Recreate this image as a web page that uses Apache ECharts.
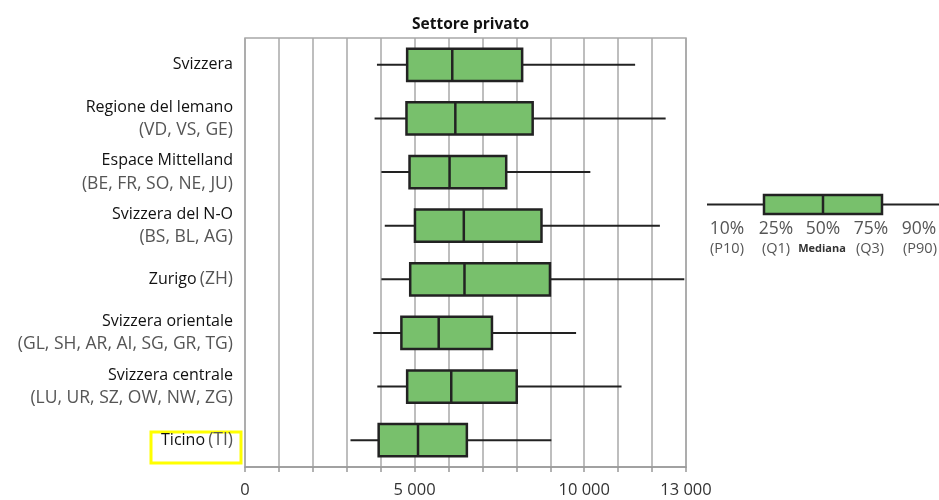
<!DOCTYPE html>
<html><head><meta charset="utf-8">
<script src="https://cdn.jsdelivr.net/npm/echarts@6/dist/echarts.min.js"></script>
<style>html,body{margin:0;padding:0;background:#fff}#c{width:939px;height:500px}</style>
</head><body><div id="c"></div>
<script>
const regions = ['Svizzera','Regione del lemano','Espace Mittelland','Svizzera del N-O','Zurigo','Svizzera orientale','Svizzera centrale','Ticino'];
const cantons = ['','(VD, VS, GE)','(BE, FR, SO, NE, JU)','(BS, BL, AG)','(ZH)','(GL, SH, AR, AI, SG, GR, TG)','(LU, UR, SZ, OW, NW, ZG)','(TI)'];
const p10 = [3890, 3820, 4020, 4120, 4020, 3780, 3900, 3110];
const q1  = [4780, 4760, 4850, 5010, 4870, 4610, 4780, 3940];
const med = [6110, 6200, 6030, 6450, 6470, 5710, 6080, 5100];
const q3  = [8170, 8480, 7700, 8740, 8990, 7280, 8010, 6540];
const p90 = [11500, 12400, 10180, 12230, 12950, 9760, 11100, 9030];
const xLabels = [0, 5000, 10000, 13000];

const data = regions.map((r,i)=>[i,p10[i],q1[i],med[i],q3[i],p90[i]]);
const chart = echarts.init(document.getElementById('c'));
const fmt = v => String(v).replace(/\B(?=(\d{3})+(?!\d))/g,' ');
const font = '"Open Sans", sans-serif';
chart.setOption({
  animation:false,
  title:{text:'Settore privato',left:465.5,textAlign:'center',top:12,textStyle:{fontFamily:font,fontSize:15.5,fontWeight:'bold',color:'#111'}},
  grid:{left:245,right:253,top:38,bottom:33,show:true,borderColor:'#a8a8a8',borderWidth:1.5},
  xAxis:{type:'value',min:0,max:13000,interval:1000,
    axisLine:{show:true,lineStyle:{color:'#999',width:1.5}},
    axisTick:{show:true,length:5,lineStyle:{color:'#999',width:1.5}},
    splitLine:{show:true,lineStyle:{color:'#a8a8a8',width:1.5}},
    axisLabel:{margin:15,fontFamily:font,fontSize:16.5,color:'#333',
      formatter:v=>xLabels.indexOf(v)>=0?fmt(v):'' ,showMaxLabel:true}},
  yAxis:{type:'category',inverse:true,data:regions,
    axisLine:{show:false},axisTick:{show:false},splitLine:{show:false},
    axisLabel:{margin:12,fontFamily:font,
      formatter:(v,i)=>{
        if(i===0) return '{a|'+v+'}';
        if(i===4||i===7) return '{a|'+v+'} {b|'+cantons[i]+'}';
        return '{a|'+v+'}\n{b|'+cantons[i]+'}';
      },
      rich:{a:{fontFamily:font,fontSize:16,color:'#111',lineHeight:23},b:{fontFamily:font,fontSize:17.5,color:'#555',lineHeight:23}}}},
  series:[{type:'custom',encode:{x:[1,2,3,4,5],y:0},data:data,
    renderItem:(params,api)=>{
      const c = api.value(0);
      const pA = api.coord([api.value(1),c]);
      const pB = api.coord([api.value(2),c]);
      const pM = api.coord([api.value(3),c]);
      const pC = api.coord([api.value(4),c]);
      const pD = api.coord([api.value(5),c]);
      const h = api.size([0,1])[1]*0.6;
      const y = pA[1];
      return {type:'group',children:[
        {type:'line',shape:{x1:pA[0],y1:y,x2:pD[0],y2:y},style:{stroke:'#222',lineWidth:2}},
        {type:'rect',shape:{x:pB[0],y:y-h/2,width:pC[0]-pB[0],height:h},style:{fill:'#78c06c',stroke:'#222',lineWidth:2.5}},
        {type:'line',shape:{x1:pM[0],y1:y-h/2,x2:pM[0],y2:y+h/2},style:{stroke:'#222',lineWidth:2.5}}
      ]};
    }}],
  graphic:[
    {type:'rect',shape:{x:151,y:432,width:90,height:31},style:{fill:'none',stroke:'#ffff00',lineWidth:3}},
    {type:'line',shape:{x1:707,y1:204.5,x2:939,y2:204.5},style:{stroke:'#222',lineWidth:2}},
    {type:'rect',shape:{x:764,y:195,width:118,height:19},style:{fill:'#78c06c',stroke:'#222',lineWidth:2.5}},
    {type:'line',shape:{x1:823,y1:195,x2:823,y2:214},style:{stroke:'#222',lineWidth:2.5}},
    ...[['10%',727],['25%',776],['50%',823],['75%',871],['90%',919]].map(([t,x])=>({type:'text',x:x,y:229,style:{text:t,fontFamily:font,fontSize:17.5,fill:'#555',align:'center',verticalAlign:'middle'}})),
    ...[['(P10)',727],['(Q1)',776],['(Q3)',870],['(P90)',920]].map(([t,x])=>({type:'text',x:x,y:249,style:{text:t,fontFamily:font,fontSize:14.5,fill:'#555',align:'center',verticalAlign:'middle'}})),
    {type:'text',x:822,y:249,style:{text:'Mediana',fontFamily:font,fontSize:11,fontWeight:'bold',fill:'#333',align:'center',verticalAlign:'middle'}}
  ]
});
</script></body></html>
